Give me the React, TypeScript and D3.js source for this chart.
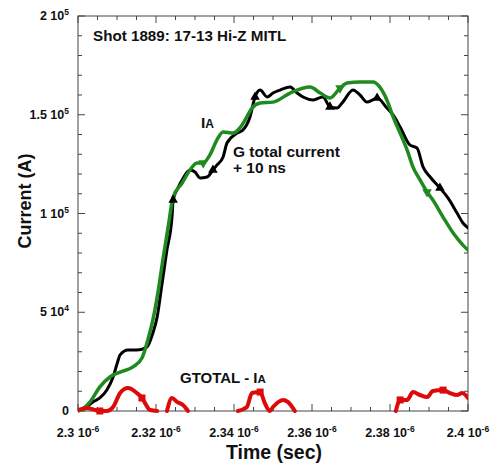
import React from "react";
import * as d3 from "d3";

// ---- Data (time in µs, current in A) ----
const iaTime = [2.3, 2.3018, 2.3038, 2.3056, 2.3074, 2.309, 2.31, 2.3108, 2.3128, 2.3151, 2.3177, 2.3192, 2.3203, 2.3215, 2.3228, 2.3241, 2.3244, 2.3256, 2.3267, 2.3287, 2.33, 2.3313, 2.3331, 2.3346, 2.3356, 2.3372, 2.3382, 2.3408, 2.3423, 2.3441, 2.3454, 2.3467, 2.3485, 2.35, 2.3518, 2.3544, 2.3562, 2.3577, 2.3603, 2.3628, 2.3646, 2.3664, 2.3679, 2.3705, 2.3723, 2.3741, 2.3756, 2.3767, 2.3792, 2.3808, 2.3826, 2.3851, 2.3869, 2.3885, 2.3903, 2.3928, 2.3949, 2.3972, 2.3987, 2.4];
const iaCurrent = [500, 1500, 4600, 6600, 10600, 17200, 23800, 28400, 30900, 30900, 32400, 39500, 47600, 63800, 81500, 98200, 106800, 112900, 117000, 122000, 121000, 118000, 118500, 122000, 124500, 128600, 135700, 140700, 142300, 148900, 159000, 162500, 159000, 161000, 162500, 164000, 161000, 159000, 157500, 159000, 154000, 153400, 156400, 162500, 160000, 156400, 157500, 158500, 153400, 149900, 143800, 134700, 133200, 123500, 118500, 112900, 107800, 100200, 95200, 92700];
const iaMarkers = [16, 23, 30, 40, 47, 55];

const gTime = [2.3, 2.3015, 2.3031, 2.3056, 2.3082, 2.3108, 2.3141, 2.3164, 2.3179, 2.3192, 2.3205, 2.3218, 2.3231, 2.3244, 2.3267, 2.3287, 2.3305, 2.3321, 2.3338, 2.3356, 2.3372, 2.3397, 2.3415, 2.3433, 2.3446, 2.3467, 2.35, 2.3544, 2.3595, 2.3621, 2.3646, 2.3672, 2.369, 2.3723, 2.3756, 2.3774, 2.3792, 2.3808, 2.3826, 2.3844, 2.3859, 2.3877, 2.3895, 2.391, 2.3936, 2.3962, 2.3987, 2.4];
const gCurrent = [0, 1500, 4600, 12200, 17200, 19700, 22300, 26800, 35900, 46100, 60000, 77000, 93000, 108300, 115400, 122000, 125600, 125600, 129600, 137200, 141300, 140700, 143300, 148900, 153400, 155900, 156400, 161000, 164000, 161000, 158500, 163500, 166100, 166600, 166600, 164000, 157500, 148900, 140700, 132100, 123500, 117000, 110900, 106800, 98200, 90100, 84000, 81500];
const gMarkers = [17, 31, 42];

const diffSegTime = [
  [2.3, 2.3023, 2.3044, 2.3056, 2.3074, 2.309, 2.3108, 2.3128, 2.3151, 2.3164, 2.3172, 2.3185, 2.3203],
  [2.3228, 2.3241, 2.3254, 2.3269, 2.3282],
  [2.341, 2.3433, 2.3446, 2.3467, 2.3479, 2.3492, 2.35, 2.3526, 2.3538, 2.3556],
  [2.3815, 2.3826, 2.3844, 2.3859, 2.3877, 2.3895, 2.391, 2.3936, 2.3954, 2.3972, 2.3985, 2.4],
];
const diffSegCurrent = [
  [500, 1500, 500, 0, 0, 2000, 9100, 11600, 9100, 6600, 4000, 500, 0],
  [0, 6600, 4600, 3000, 0],
  [0, 2000, 9100, 9600, 4000, 0, 2000, 5600, 4600, 0],
  [0, 5600, 5600, 9600, 8100, 7100, 10100, 10600, 9100, 8100, 9100, 6600],
];
const diffMarkers = [[3, 9], [], [3], [1, 7]];

const xMajor = [2.3, 2.32, 2.34, 2.36, 2.38, 2.4];
const xMajorLabels = ["2.3", "2.32", "2.34", "2.36", "2.38", "2.4"];
const yMajor = [0, 50000, 100000, 150000, 200000];
const yMajorMant = ["0", "5", "1", "1.5", "2"];
const yMajorExp = ["", "4", "5", "5", "5"];

const W = 498, H = 468;
const L = 78, R = 468, T = 16, B = 411;
const FONT = "'Liberation Sans', Arial, Helvetica, sans-serif";
const GREEN = "#1f8a1f";
const RED = "#dd0a0a";

export default function App() {
  const x = d3.scaleLinear().domain([2.3, 2.4]).range([L, R]);
  const y = d3.scaleLinear().domain([0, 200000]).range([B, T]);
  const line = d3.line<[number, number]>().x(d => x(d[0])).y(d => y(d[1])).curve(d3.curveMonotoneX);

  const ia: [number, number][] = iaTime.map((t, i) => [t, iaCurrent[i]]);
  const g: [number, number][] = gTime.map((t, i) => [t, gCurrent[i]]);
  const diffs: [number, number][][] = diffSegTime.map((ts, s) => ts.map((t, i) => [t, diffSegCurrent[s][i]]));

  const xMinor = d3.range(0, 21).map(i => 2.3 + i * 0.005).filter((_, i) => i % 4 !== 0);
  const yMinor = d3.range(0, 21).map(i => i * 10000).filter((_, i) => i % 5 !== 0);
  const tri = d3.symbol().type(d3.symbolTriangle).size(40)() as string;
  const MAJ = 7, MIN = 4;
  const axisColor = "#444";

  return (
    <svg width={W} height={H} style={{ position: "absolute", left: 0, top: 0, background: "#fff" }} fontFamily={FONT}>
      <defs>
        <clipPath id="plot"><rect x={L} y={T - 2} width={R - L} height={B - T + 4} /></clipPath>
      </defs>
      <rect x={0} y={0} width={W} height={H} fill="#fff" />
      {/* ticks */}
      <g stroke={axisColor} strokeWidth={1}>
        {xMajor.map((v, i) => (
          <g key={"xM" + i}>
            <line x1={x(v)} x2={x(v)} y1={B} y2={B - MAJ} />
            <line x1={x(v)} x2={x(v)} y1={T} y2={T + MAJ} />
          </g>
        ))}
        {xMinor.map((v, i) => (
          <g key={"xm" + i}>
            <line x1={x(v)} x2={x(v)} y1={B} y2={B - MIN} />
            <line x1={x(v)} x2={x(v)} y1={T} y2={T + MIN} />
          </g>
        ))}
        {yMajor.map((v, i) => (
          <g key={"yM" + i}>
            <line x1={L} x2={L + MAJ} y1={y(v)} y2={y(v)} />
            <line x1={R} x2={R - MAJ} y1={y(v)} y2={y(v)} />
          </g>
        ))}
        {yMinor.map((v, i) => (
          <g key={"ym" + i}>
            <line x1={L} x2={L + MIN} y1={y(v)} y2={y(v)} />
            <line x1={R} x2={R - MIN} y1={y(v)} y2={y(v)} />
          </g>
        ))}
      </g>
      <rect x={L} y={T} width={R - L} height={B - T} fill="none" stroke={axisColor} strokeWidth={1} />

      {/* curves */}
      <g clipPath="url(#plot)" fill="none" strokeLinejoin="round" strokeLinecap="round">
        <path d={line(ia) as string} stroke="#000" strokeWidth={3} />
        <path d={line(g) as string} stroke={GREEN} strokeWidth={3.5} />
        {diffs.map((seg, s) => (
          <path key={"d" + s} d={line(seg) as string} stroke={RED} strokeWidth={4} />
        ))}
      </g>
      {/* markers */}
      <g>
        {iaMarkers.map(i => (
          <path key={"mi" + i} d={tri} transform={`translate(${x(ia[i][0])},${y(ia[i][1])})`} fill="#000" />
        ))}
        {gMarkers.map(i => (
          <path key={"mg" + i} d={tri} transform={`translate(${x(g[i][0])},${y(g[i][1])}) rotate(180)`} fill={GREEN} />
        ))}
        {diffMarkers.map((idxs, s) => idxs.map(i => (
          <rect key={"md" + s + "_" + i} x={x(diffs[s][i][0]) - 3.5} y={y(diffs[s][i][1]) - 3.5} width={7} height={7} fill={RED} />
        )))}
      </g>

      {/* tick labels */}
      <g fontWeight="bold" fontSize={12.5} fill="#111">
        {xMajor.map((v, i) => (
          <text key={"xl" + i} x={x(v)} y={437} textAnchor="middle">
            {xMajorLabels[i]} 10<tspan fontSize={8.5} dy={-5}>-6</tspan>
          </text>
        ))}
        {yMajor.map((v, i) => (
          <text key={"yl" + i} x={69} y={y(v) + 4} textAnchor="end">
            {yMajorExp[i] ? <>{yMajorMant[i]} 10<tspan fontSize={8.5} dy={-5}>{yMajorExp[i]}</tspan></> : yMajorMant[i]}
          </text>
        ))}
      </g>

      {/* axis titles */}
      <text x={274} y={459} textAnchor="middle" fontWeight="bold" fontSize={19.5} fill="#111">Time (sec)</text>
      <text transform={`translate(31,201) rotate(-90)`} textAnchor="middle" fontWeight="bold" fontSize={18} fill="#111">Current (A)</text>

      {/* annotations */}
      <g fontWeight="bold" fill="#111">
        <text x={93} y={41} fontSize={15.2}>Shot 1889: 17-13 Hi-Z MITL</text>
        <text x={201} y={128} fontSize={15.5}>I<tspan fontSize={12}>A</tspan></text>
        <text x={233} y={157} fontSize={15.5}>G total current</text>
        <text x={233} y={173} fontSize={15.5}>+ 10 ns</text>
        <text x={180} y={383} fontSize={15}>GTOTAL - I<tspan fontSize={11.5}>A</tspan></text>
      </g>
    </svg>
  );
}
